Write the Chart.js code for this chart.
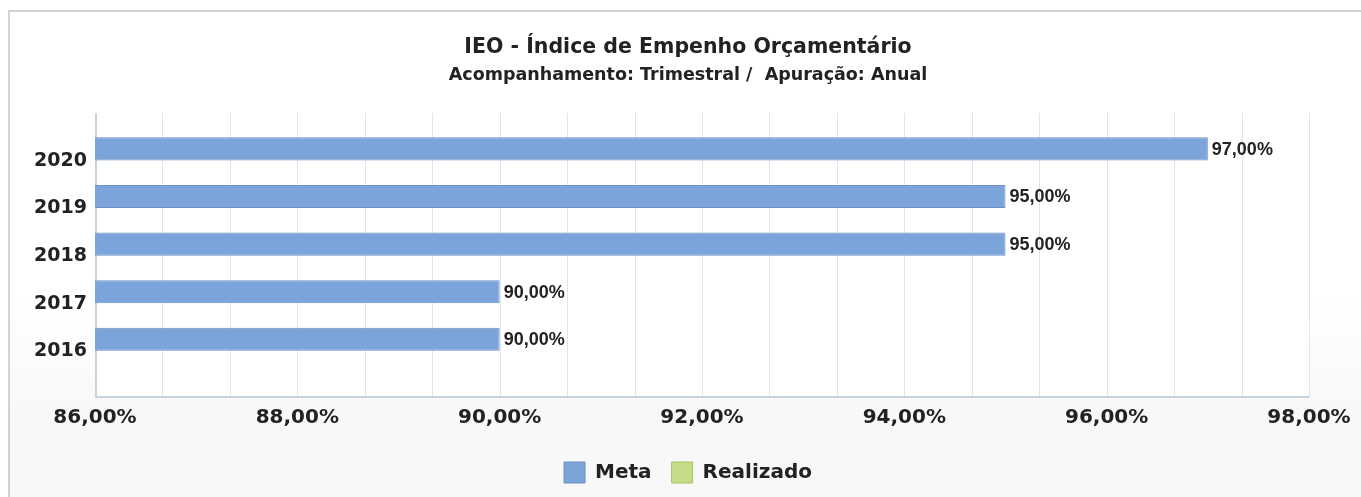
<!DOCTYPE html>
<html>
<head>
<meta charset="UTF-8">
<title>IEO - Índice de Empenho Orçamentário</title>
<script src="https://cdn.jsdelivr.net/npm/chart.js@4/dist/chart.umd.min.js"></script>
<style>
  html, body { margin: 0; padding: 0; width: 1361px; height: 497px; overflow: hidden; background: #fff; }
  #frame {
    position: absolute; left: 8px; top: 10px; width: 1400px; height: 520px;
    border-top: 2px solid #d3d3d3; border-left: 2px solid #d3d3d3;
    background: linear-gradient(to bottom, #ffffff 0px, #ffffff 290px, #f8f8f8 400px, #f8f8f8 520px);
  }
  #wrap { position: absolute; left: 0; top: 0; width: 1361px; height: 497px; }
</style>
</head>
<body>
<div id="frame"></div>
<div id="wrap"><canvas id="chart" width="1361" height="497"></canvas></div>
<script>
// dados do grafico
var anos = ['2020', '2019', '2018', '2017', '2016'];
var meta = [97, 95, 95, 90, 90];
var realizado = [null, null, null, null, null];
var xTicks = [86, 88, 90, 92, 94, 96, 98];

var fonte = '"DejaVu Sans", Verdana, sans-serif';

function pct(v) {
    return Number(v).toFixed(2).replace('.', ',') + '%';
}

// linhas de grade que passam um pouco acima e abaixo da area das barras
var gridPlugin = {
    id: 'gridPlugin',
    beforeDatasetsDraw: function (chart) {
        var ctx = chart.ctx;
        var x = chart.scales.x;
        var a = chart.chartArea;
        var top = a.top - 24, bottom = a.bottom + 22;
        ctx.save();
        ctx.fillStyle = '#ffffff';
        ctx.fillRect(a.left, top, a.right - a.left, bottom - top);
        ctx.strokeStyle = '#dde6f0';
        ctx.lineWidth = 1;
        for (var i = 0; i < xTicks.length; i++) {
            for (var k = 0; k < 3; k++) {
                if (i == xTicks.length - 1 && k > 0) break;
                var v = xTicks[i] + k * (xTicks[1] - xTicks[0]) / 3;
                var px = Math.round(x.getPixelForValue(v)) + 0.5;
                ctx.beginPath();
                ctx.moveTo(px, top);
                ctx.lineTo(px, bottom);
                ctx.stroke();
            }
        }
        ctx.strokeStyle = '#c4d3e3';
        ctx.lineWidth = 2;
        ctx.beginPath();
        ctx.moveTo(a.left + 1, top);
        ctx.lineTo(a.left + 1, bottom);
        ctx.lineTo(a.right, bottom);
        ctx.stroke();
        ctx.restore();
    },
    afterDatasetsDraw: function (chart) {
        var ctx = chart.ctx;
        var m = chart.getDatasetMeta(0);
        ctx.save();
        ctx.font = 'bold 18px "Liberation Sans", Arial, sans-serif';
        ctx.fillStyle = '#222';
        ctx.textAlign = 'left';
        ctx.textBaseline = 'middle';
        m.data.forEach(function (bar, i) {
            ctx.fillText(pct(meta[i]), bar.x + 4, bar.y + 1);
        });
        ctx.restore();
    }
};

var chart = new Chart(document.getElementById('chart').getContext('2d'), {
    type: 'bar',
    data: {
        labels: anos,
        datasets: [{
            label: 'Meta',
            data: meta,
            backgroundColor: '#7ba4db',
            borderColor: '#6f8fbf',
            borderWidth: 1,
            categoryPercentage: 1,
            barPercentage: 0.97
        }, {
            label: 'Realizado',
            data: realizado,
            backgroundColor: '#c6dc86',
            borderColor: '#a9c267',
            borderWidth: 1,
            categoryPercentage: 1,
            barPercentage: 0.97
        }]
    },
    options: {
        indexAxis: 'y',
        responsive: false,
        animation: false,
        layout: { padding: { top: 0, left: 15, right: 0, bottom: 4 } },
        scales: {
            x: {
                min: 86, max: 98,
                grid: { display: false, drawTicks: false },
                border: { display: false },
                afterBuildTicks: function (s) {
                    s.ticks = xTicks.map(function (v) { return { value: v }; });
                },
                afterFit: function (s) { s.height = 67; s.paddingLeft = 0; s.paddingRight = 0; },
                ticks: {
                    padding: 31,
                    autoSkip: false,
                    maxRotation: 0,
                    color: '#222',
                    font: { family: fonte, size: 20, weight: 'bold' },
                    callback: function (v) { return pct(v); }
                }
            },
            y: {
                grid: { display: false, drawTicks: false },
                border: { display: false },
                afterFit: function (s) { s.width = 80; },
                ticks: {
                    padding: 8,
                    color: '#222',
                    font: { family: fonte, size: 19, weight: 'bold' }
                }
            },
            // espaco vazio a direita do grafico
            direita: {
                type: 'category',
                position: 'right',
                grid: { display: false, drawTicks: false },
                border: { display: false },
                ticks: { display: false },
                afterFit: function (s) { s.width = 52; }
            }
        },
        plugins: {
            title: {
                display: true,
                text: 'IEO - Índice de Empenho Orçamentário',
                color: '#222',
                font: { family: fonte, size: 20.5, weight: 'bold' },
                padding: { top: 35, bottom: 4 }
            },
            subtitle: {
                display: true,
                text: 'Acompanhamento: Trimestral /  Apuração: Anual',
                color: '#222',
                font: { family: fonte, size: 17.5, weight: 'bold' },
                padding: { top: 1, bottom: 51.4 }
            },
            legend: {
                position: 'bottom',
                labels: {
                    boxWidth: 21,
                    boxHeight: 21,
                    padding: 20,
                    color: '#222',
                    font: { family: fonte, size: 20, weight: 'bold' }
                }
            },
            tooltip: { enabled: false }
        }
    },
    plugins: [gridPlugin]
});
</script>
</body>
</html>
